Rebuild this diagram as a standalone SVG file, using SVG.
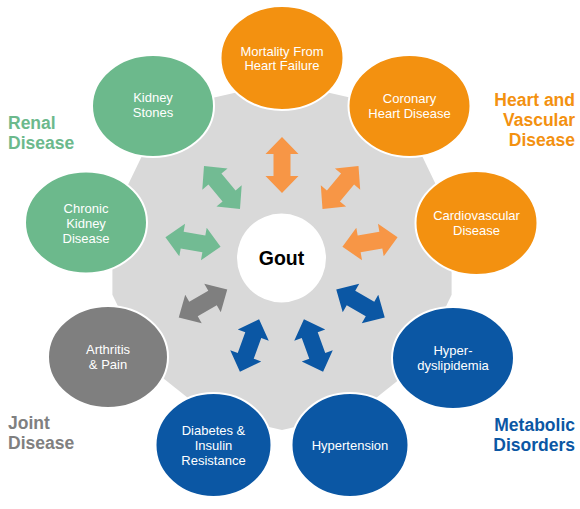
<svg xmlns="http://www.w3.org/2000/svg" xmlns:xlink="http://www.w3.org/1999/xlink" width="580" height="509" viewBox="0 0 580 509">
<style>
.nt{font-family:"Liberation Sans",Arial,sans-serif;font-size:13px;fill:#ffffff;text-anchor:middle}
.cat{font-family:"Liberation Sans",Arial,sans-serif;font-size:17.5px;font-weight:bold}
.el{stroke:#ffffff;stroke-width:2}
.or{fill:#F39110}.gr{fill:#6CB98C}.bl{fill:#0B57A4}.gy{fill:#7F7F7F}
.aor{fill:#F79646}.agr{fill:#72BB93}.abl{fill:#0B57A4}.agy{fill:#7F7F7F}
</style>
<defs>
<path id="arr" d="M-28,0 L-11,-16.5 L-11,-8.5 L11,-8.5 L11,-16.5 L28,0 L11,16.5 L11,8.5 L-11,8.5 L-11,16.5 Z"/>
</defs>
<rect width="580" height="509" fill="#ffffff"/>
<polygon id="bg" fill="#D9D9D9" points="282,82 206.5,99.2 146,147.5 112.4,217.3 112.4,294.7 146,364.5 206.5,412.8 282,430 357.5,412.8 418,364.5 451.6,294.7 451.6,217.3 418,147.5 357.5,99.2"/>
<g id="connectors">
<use xlink:href="#arr" class="aor" transform="translate(282,165) rotate(-90)"/>
<use xlink:href="#arr" class="aor" transform="translate(340.5,187.5) rotate(-50)"/>
<use xlink:href="#arr" class="aor" transform="translate(370,242) rotate(-10)"/>
<use xlink:href="#arr" class="abl" transform="translate(360.5,303.5) rotate(30)"/>
<use xlink:href="#arr" class="abl" transform="translate(313.5,345.5) rotate(70)"/>
<use xlink:href="#arr" class="abl" transform="translate(249.5,345.5) rotate(110)"/>
<use xlink:href="#arr" class="agy" transform="translate(203,303.5) rotate(150)"/>
<use xlink:href="#arr" class="agr" transform="translate(193,242) rotate(190)"/>
<use xlink:href="#arr" class="agr" transform="translate(222,187.5) rotate(230)"/>
</g>
<g id="gout">
<circle cx="281.5" cy="258" r="44.5" fill="#ffffff"/>
<text x="281.5" y="264.5" font-family="Liberation Sans,Arial,sans-serif" font-size="19.5" font-weight="bold" fill="#000000" text-anchor="middle">Gout</text>
</g>
<g id="n-mortality">
<ellipse class="el or" cx="282" cy="58" rx="61.5" ry="52"/>
<text class="nt" x="282" y="55.5">Mortality From</text>
<text class="nt" x="282" y="70">Heart Failure</text>
</g>
<g id="n-coronary">
<ellipse class="el or" cx="409.5" cy="106" rx="61" ry="51"/>
<text class="nt" x="409.5" y="103">Coronary</text>
<text class="nt" x="409.5" y="118">Heart Disease</text>
</g>
<g id="n-cardio">
<ellipse class="el or" cx="476.5" cy="223" rx="61" ry="52"/>
<text class="nt" x="476.5" y="220">Cardiovascular</text>
<text class="nt" x="476.5" y="235">Disease</text>
</g>
<g id="n-hyperdys">
<ellipse class="el bl" cx="453" cy="358" rx="61" ry="51"/>
<text class="nt" x="453" y="355">Hyper-</text>
<text class="nt" x="453" y="370">dyslipidemia</text>
</g>
<g id="n-hypertension">
<ellipse class="el bl" cx="350" cy="445" rx="58.5" ry="52"/>
<text class="nt" x="350" y="450">Hypertension</text>
</g>
<g id="n-diabetes">
<ellipse class="el bl" cx="213.5" cy="445" rx="58" ry="52"/>
<text class="nt" x="213.5" y="434.5">Diabetes &amp;</text>
<text class="nt" x="213.5" y="449.5">Insulin</text>
<text class="nt" x="213.5" y="464.5">Resistance</text>
</g>
<g id="n-arthritis">
<ellipse class="el gy" cx="108" cy="357" rx="60" ry="51"/>
<text class="nt" x="108" y="354">Arthritis</text>
<text class="nt" x="108" y="369">&amp; Pain</text>
</g>
<g id="n-ckd">
<ellipse class="el gr" cx="86" cy="222.5" rx="61" ry="51"/>
<text class="nt" x="86" y="212.5">Chronic</text>
<text class="nt" x="86" y="227.5">Kidney</text>
<text class="nt" x="86" y="242.5">Disease</text>
</g>
<g id="n-stones">
<ellipse class="el gr" cx="153" cy="106" rx="61" ry="51"/>
<text class="nt" x="153" y="101.5">Kidney</text>
<text class="nt" x="153" y="116.5">Stones</text>
</g>
<g id="labels">
<text class="cat" x="8" y="129" fill="#6CB98C">Renal</text>
<text class="cat" x="8" y="149" fill="#6CB98C">Disease</text>
<text class="cat" x="575" y="106" fill="#F39110" text-anchor="end">Heart and</text>
<text class="cat" x="575" y="126" fill="#F39110" text-anchor="end">Vascular</text>
<text class="cat" x="575" y="146" fill="#F39110" text-anchor="end">Disease</text>
<text class="cat" x="8" y="429" fill="#808080">Joint</text>
<text class="cat" x="8" y="449" fill="#808080">Disease</text>
<text class="cat" x="575" y="431" fill="#0B57A4" text-anchor="end">Metabolic</text>
<text class="cat" x="575" y="451" fill="#0B57A4" text-anchor="end">Disorders</text>
</g>
</svg>
